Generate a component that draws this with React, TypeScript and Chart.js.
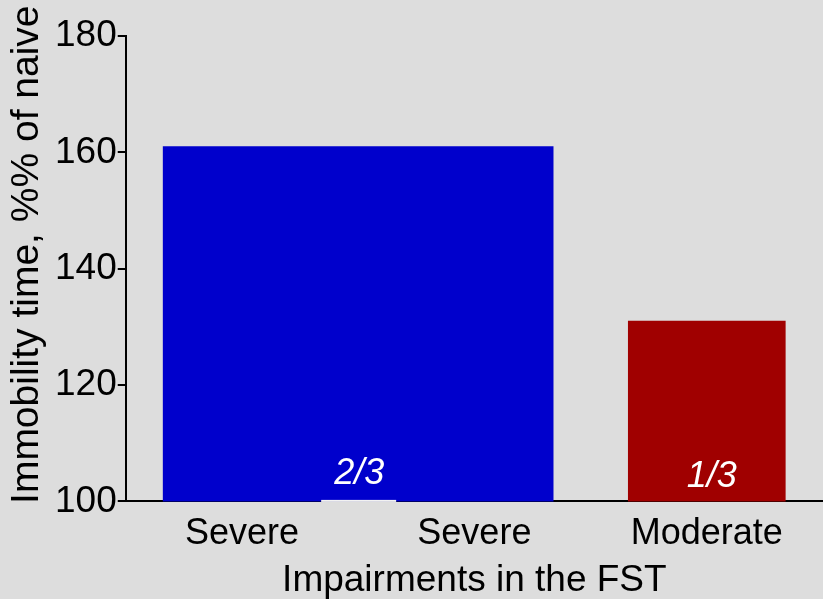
import React, { useEffect, useRef } from "react";
import { Chart, registerables } from "chart.js";

Chart.register(...registerables);

// Categories on the x axis
const CATEGORIES = ["Severe", "Severe", "Moderate"];
// Bar positions (in category units) and values
const BAR_POSITIONS = [0.5, 2];
const BAR_VALUES = [161, 131];
const BAR_LABELS = ["2/3", "1/3"];
const BAR_COLORS = ["#0000cc", "#a00000"];
const Y_TICKS = [100, 120, 140, 160, 180];
const Y_TITLE = "Immobility time, %% of naive";
const X_TITLE = "Impairments in the FST";

const FONT = "'Liberation Sans', Arial, sans-serif";

const labelPlugin = {
  id: "barLabels",
  afterDraw(chart: any) {
    const ctx = chart.ctx;
    const xs = chart.scales.x;
    const ys = chart.scales.y;
    const base = ys.getPixelForValue(Y_TICKS[0]);
    ctx.save();
    BAR_LABELS.forEach((lab, i) => {
      const x = xs.getPixelForValue(BAR_POSITIONS[i]);
      ctx.fillStyle = "#ffffff";
      ctx.font = `italic 36px ${FONT}`;
      ctx.textAlign = "center";
      ctx.textBaseline = "alphabetic";
      ctx.fillText(lab, x + (i === 1 ? 5 : 1), base - (i === 0 ? 17 : 14));
      if (i === 0) {
        ctx.fillStyle = "#f2f2f2";
        ctx.fillRect(x - 37, base - 1.5, 75, 2);
      }
    });
    // y axis title
    const ca = chart.chartArea;
    ctx.translate(38, (ca.top + ca.bottom) / 2 - 14);
    ctx.rotate(-Math.PI / 2);
    ctx.fillStyle = "#000";
    ctx.font = `39px ${FONT}`;
    ctx.textAlign = "center";
    ctx.textBaseline = "alphabetic";
    ctx.fillText(Y_TITLE, 0, 0);
    ctx.restore();
  },
};

export default function App() {
  const ref = useRef<HTMLCanvasElement>(null);
  useEffect(() => {
    const c = ref.current!;
    const chart = new Chart(c, {
      type: "bar",
      data: {
        datasets: BAR_VALUES.map((v, i) => ({
          label: BAR_LABELS[i],
          data: [{ x: BAR_POSITIONS[i], y: v }],
          backgroundColor: BAR_COLORS[i],
          borderWidth: 0,
          grouped: false,
          barThickness: i === 0 ? 390 : 157,
        })) as any,
      },
      options: {
        animation: false,
        responsive: false,
        devicePixelRatio: 1,
        layout: { padding: { top: 36, right: 0, bottom: 0, left: 54 } },
        plugins: { legend: { display: false }, tooltip: { enabled: false } },
        scales: {
          x: {
            type: "linear",
            min: -0.5,
            max: 2.5,
            offset: false,
            afterBuildTicks: (axis: any) => {
              axis.ticks = CATEGORIES.map((_, i) => ({ value: i }));
            },
            ticks: {
              callback: (v: any) => CATEGORIES[v] ?? "",
              color: "#000",
              font: { family: FONT, size: 36 },
              padding: 11,
              maxRotation: 0,
              autoSkip: false,
            },
            grid: { display: false, drawTicks: false },
            border: { display: true, color: "#000", width: 2 },
            title: {
              display: true,
              text: X_TITLE,
              color: "#000",
              font: { family: FONT, size: 37 },
              padding: { top: -8, bottom: -4 },
            },
          },
          y: {
            min: 100,
            max: 180,
            afterBuildTicks: (axis: any) => {
              axis.ticks = Y_TICKS.map((v) => ({ value: v }));
            },
            ticks: {
              color: "#000",
              font: { family: FONT, size: 37 },
              padding: 1,
            },
            grid: {
              drawOnChartArea: false,
              drawTicks: true,
              tickLength: 8,
              color: "#000",
              lineWidth: 2,
            },
            border: { display: true, color: "#000", width: 2 },
          },
        },
      },
      plugins: [labelPlugin],
    } as any);
    return () => chart.destroy();
  }, []);
  return (
    <div
      style={{
        position: "fixed",
        left: 0,
        top: 0,
        width: 823,
        height: 599,
        background: "#dddddd",
      }}
    >
      <canvas ref={ref} width={823} height={599} style={{ display: "block" }} />
    </div>
  );
}
